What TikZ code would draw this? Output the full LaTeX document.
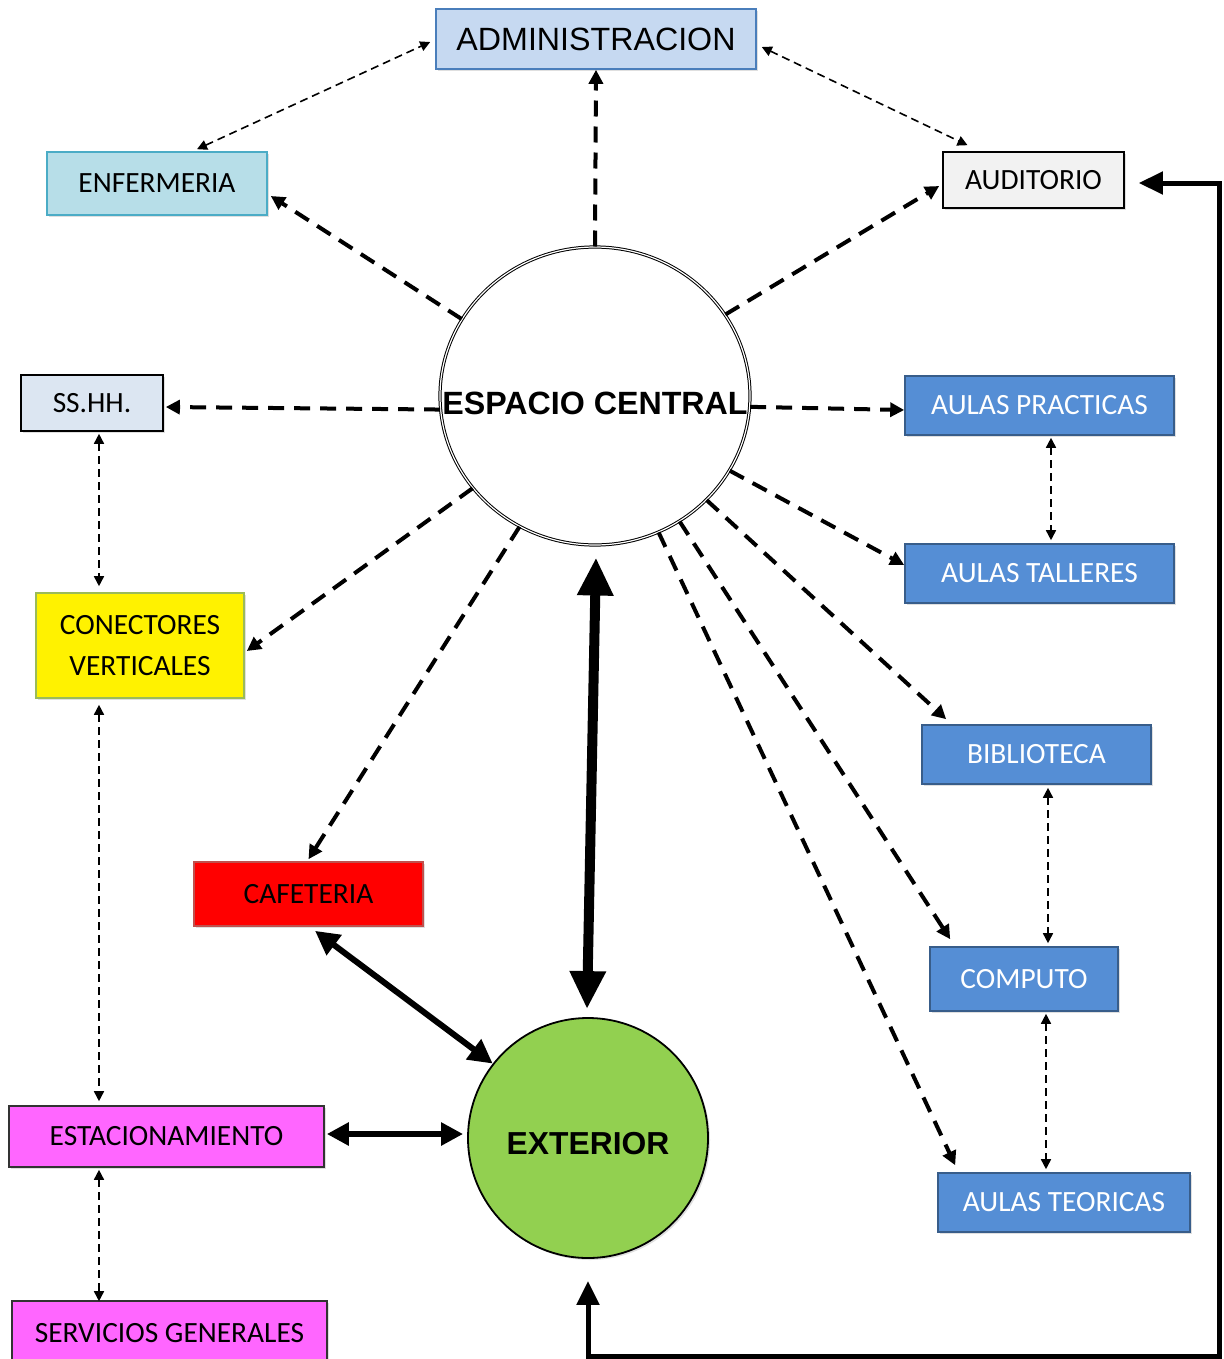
\documentclass[tikz,border=0pt]{standalone}
\usepackage{fontspec}
\setmainfont{Carlito}
\newfontfamily\arialf{Liberation Sans}
\usetikzlibrary{arrows.meta,calc,shapes.geometric,shadows}
\definecolor{admfill}{HTML}{C6D9F1}
\definecolor{admline}{HTML}{4A7EBB}
\definecolor{enffill}{HTML}{B7DEE8}
\definecolor{enfline}{HTML}{4BACC6}
\definecolor{audfill}{HTML}{F2F2F2}
\definecolor{ssfill}{HTML}{DCE6F2}
\definecolor{bluefill}{HTML}{558ED5}
\definecolor{blueline}{HTML}{385D8A}
\definecolor{conline}{HTML}{9BBB59}
\definecolor{cafline}{HTML}{C0504D}
\definecolor{estfill}{HTML}{FF66FF}
\definecolor{extfill}{HTML}{92D050}
\tikzset{
  box/.style={rectangle, draw, line width=0.8pt, inner sep=0pt, align=center,
    font=\fontsize{14.7}{20.5}\selectfont,
    drop shadow={shadow xshift=1pt, shadow yshift=-1pt, opacity=0.25}},
  bluebox/.style={box, fill=bluefill, draw=blueline, text=white},
  thickdash/.style={line width=2pt, dash pattern=on 8pt off 5pt,
    -{Triangle[length=7pt,width=7pt]}},
  thindash/.style={line width=0.8pt, dash pattern=on 4pt off 2.5pt,
    {Triangle[length=5pt,width=5pt]}-{Triangle[length=5pt,width=5pt]}},
}
\begin{document}
\begin{tikzpicture}[x=0.5pt,y=-0.5pt]
\clip (0,0) rectangle (1224,1359);
\fill[white] (0,0) rectangle (1224,1359);
% nodes
\node[box, fill=admfill, draw=admline, minimum width=160pt, minimum height=30pt,
  font=\arialf\fontsize{16.1}{18}\selectfont] (adm) at (596,39) {ADMINISTRACION};
\node[box, fill=enffill, draw=enfline, minimum width=110pt, minimum height=31.5pt] (enf) at (157,183.5) {ENFERMERIA};
\node[box, fill=audfill, minimum width=90.5pt, minimum height=28pt] (aud) at (1033.5,180) {AUDITORIO};
\node[box, fill=ssfill, minimum width=71pt, minimum height=28pt] (ss) at (92,403) {SS.HH.};
\node[bluebox, minimum width=134.5pt, minimum height=29.5pt] (ap) at (1039.5,405.5) {AULAS PRACTICAS};
\node[bluebox, minimum width=134.5pt, minimum height=29.5pt] (at) at (1039.5,573.5) {AULAS TALLERES};
\node[bluebox, minimum width=114.5pt, minimum height=29.5pt] (bib) at (1036.5,754.5) {BIBLIOTECA};
\node[bluebox, minimum width=94pt, minimum height=32pt] (comp) at (1024,979) {COMPUTO};
\node[bluebox, minimum width=126pt, minimum height=29.5pt] (ate) at (1064,1202.5) {AULAS TEORICAS};
\node[box, fill=yellow, draw=conline, minimum width=104pt, minimum height=52.5pt] (con) at (140,645.5) {CONECTORES\\VERTICALES};
\node[box, fill=red, draw=cafline, minimum width=114.5pt, minimum height=32pt] (caf) at (308.5,894) {CAFETERIA};
\node[box, fill=estfill, draw=black!80, minimum width=157.5pt, minimum height=30.5pt] (est) at (166.5,1136.5) {ESTACIONAMIENTO};
\node[box, fill=estfill, draw=black!80, minimum width=157.5pt, minimum height=32pt] (serv) at (169.5,1333) {SERVICIOS GENERALES};
\node[ellipse, draw, fill=white, line width=0.5pt, double, double distance=0.6pt,
  minimum width=155pt, minimum height=149pt, inner sep=0pt,
  font=\arialf\bfseries\fontsize{16.1}{18}\selectfont] (esp) at (595,396)
  {\makebox[0pt]{\raisebox{-9.25pt}[0pt][0pt]{ESPACIO CENTRAL}}};
\node[circle, draw, fill=extfill, line width=0.9pt, minimum size=120pt, inner sep=0pt,
  font=\arialf\bfseries\fontsize{15.9}{18}\selectfont,
  drop shadow={shadow xshift=1pt, shadow yshift=-1pt, opacity=0.25}] (ext) at (588,1138)
  {\makebox[0pt]{\raisebox{-8.2pt}[0pt][0pt]{EXTERIOR}}};
% thick dashed from central space
\draw[thickdash] (esp.north) -- (adm.south);
\draw[thickdash] (esp.150) -- ($(enf.east)+(3,12.5)$);
\draw[thickdash] (esp.32) -- ($(aud.west)+(-3,6)$);
\draw[thickdash] (esp.185) -- ($(ss.east)+(2,4)$);
\draw[thickdash] (esp.-4) -- ($(ap.west)+(0,4.5)$);
\draw[thickdash] (esp.-29) -- ($(at.west)+(0,-8.5)$);
\draw[thickdash] (esp.-43) -- ($(bib.north west)+(25,-5)$);
\draw[thickdash] (esp.-56) -- ($(comp.north west)+(21,-7)$);
\draw[thickdash] (esp.-65) -- ($(ate.north west)+(18,-7)$);
\draw[thickdash] (esp.217) -- ($(con.east)+(2,5.5)$);
\draw[thickdash] (esp.240) -- ($(caf.north)+(0,-2)$);
% thin dashed both ways
\draw[thindash] ($(enf.north)+(40,-2)$) -- ($(adm.west)+(-5,3)$);
\draw[thindash] ($(adm.east)+(5,8)$) -- ($(aud.north)+(-66,-6)$);
\draw[thindash] ($(ap.south)+(11.5,2)$) -- ($(at.north)+(11.5,-3)$);
\draw[thindash] ($(bib.south)+(11.5,3)$) -- ($(comp.north)+(24,-3)$);
\draw[thindash] ($(comp.south)+(22,2)$) -- ($(ate.north)+(-18,-3)$);
\draw[thindash] ($(ss.south)+(7,2)$) -- ($(con.north)+(-41,-6)$);
\draw[thindash] ($(con.south)+(-41,6)$) -- ($(est.north)+(-67.5,-4)$);
\draw[thindash] ($(est.south)+(-67.5,2)$) -- ($(serv.north)+(-70.5,1)$);
% solid thick arrows
\draw[line width=5pt, {Triangle[length=19pt,width=17pt]}-{Triangle[length=19pt,width=17pt]}]
  ($(esp.south)+(1,12)$) -- ($(ext.north)+(-1,-8)$);
\draw[line width=3pt, {Triangle[length=12pt,width=12pt]}-{Triangle[length=12pt,width=12pt]}]
  ($(caf.south)+(6.5,4)$) -- (ext.142);
\draw[line width=3pt, {Triangle[length=11pt,width=11pt]}-{Triangle[length=11pt,width=11pt]}]
  ($(est.east)+(2,-2.5)$) -- ($(ext.west)+(-4,-4)$);
\coordinate (lp1) at ($(ext.south)+(0,22)$);
\coordinate (lp2) at (588,1356);
\coordinate (lp3) at (1219,1356);
\coordinate (lp4) at (1219,183);
\draw[line width=2.5pt, {Triangle[length=12pt,width=11pt]}-{Triangle[length=12pt,width=11pt]}]
  (lp1) -- (lp2) -- (lp3) -- (lp4) -- ($(aud.east)+(14,3)$);
\end{tikzpicture}
\end{document}
